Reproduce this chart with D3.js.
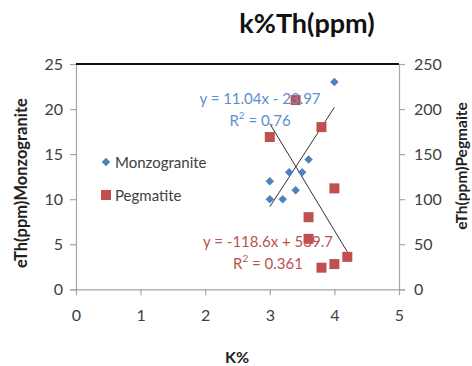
<!DOCTYPE html>
<html><head><meta charset="utf-8">
<script src="https://cdn.jsdelivr.net/npm/d3@7"></script>
<style>body{margin:0;background:#fff;}svg{display:block;font-family:Lato,"Open Sans",sans-serif;}</style>
</head><body>
<svg id="c" width="472" height="366"></svg>
<script>
const monzoK = [3.0, 3.0, 3.2, 3.3, 3.4, 3.5, 3.6, 4.0];
const monzoTh = [12, 10, 10, 13, 11, 13, 14.4, 23];
const pegK = [3.0, 3.4, 3.8, 4.0, 3.6, 3.6, 3.8, 4.0, 4.2];
const pegTh = [169, 210, 180, 112, 80, 56, 24, 28, 36];
const xTicks = [0, 1, 2, 3, 4, 5];
const yLeftTicks = [0, 5, 10, 15, 20, 25];
const yRightTicks = [0, 50, 100, 150, 200, 250];
const monzoFit = {slope: 11.04, intercept: -23.97, r2: "0.76", x0: 3.0, x1: 4.0};
const pegFit = {slope: -118.6, intercept: 539.7, r2: "0.361", x0: 3.0, x1: 4.2};

const svg = d3.select("#c");
const L = 76, R = 399, T = 64, B = 289.3;
const x = d3.scaleLinear().domain([0, 5]).range([L, R]);
const yL = d3.scaleLinear().domain([0, 25]).range([B, T]);
const yR = d3.scaleLinear().domain([0, 250]).range([B, T]);
const blue = "#4F81BD", red = "#C0504D", txt = "#404040", grid = "#a6a6a6";

// axes
const ax = svg.append("g").attr("transform", `translate(0,${B})`)
  .call(d3.axisBottom(x).tickValues(xTicks).tickSize(6).tickPadding(14).tickFormat(d3.format("d")));
const axL = svg.append("g").attr("transform", `translate(${L},0)`)
  .call(d3.axisLeft(yL).tickValues(yLeftTicks).tickSize(6).tickPadding(7));
const axR = svg.append("g").attr("transform", `translate(${R},0)`)
  .call(d3.axisRight(yR).tickValues(yRightTicks).tickSize(6).tickPadding(9));
[ax, axL, axR].forEach(g => {
  g.selectAll("path,line").attr("stroke", grid).attr("stroke-width", 1.2);
  g.selectAll("text").attr("fill", txt).attr("font-size", 16).attr("font-family", "Lato,sans-serif");
});
ax.select(".domain").attr("d", `M${L},0.5H${R}`);
// top border
svg.append("line").attr("x1", L).attr("x2", R).attr("y1", T).attr("y2", T)
  .attr("stroke", "#111").attr("stroke-width", 2);

// trend lines
[monzoFit, pegFit].forEach((f, i) => {
  const yy = i === 0 ? yL : yR;
  svg.append("line")
    .attr("x1", x(f.x0)).attr("y1", yy(f.slope * f.x0 + f.intercept))
    .attr("x2", x(f.x1)).attr("y2", yy(f.slope * f.x1 + f.intercept))
    .attr("stroke", "#333").attr("stroke-width", 1);
});

// points
const diamond = d3.symbol().type(d3.symbolDiamond2).size(46);
svg.append("g").selectAll("path").data(monzoK.map((k, i) => [k, monzoTh[i]])).join("path")
  .attr("d", diamond).attr("transform", d => `translate(${x(d[0])},${yL(d[1])})`).attr("fill", blue);
svg.append("g").selectAll("rect").data(pegK.map((k, i) => [k, pegTh[i]])).join("rect")
  .attr("x", d => x(d[0]) - 5).attr("y", d => yR(d[1]) - 5).attr("width", 10).attr("height", 10).attr("fill", red);

// equation labels
function eq(f, cx, cy, col) {
  const s = f.intercept < 0 ? " - " : " + ";
  svg.append("text").attr("x", cx).attr("y", cy).attr("text-anchor", "middle").attr("dominant-baseline", "central")
    .attr("fill", col).attr("font-size", 15)
    .text(`y = ${f.slope}x${s}${Math.abs(f.intercept)}`);
  const t = svg.append("text").attr("x", cx).attr("y", cy + 22).attr("text-anchor", "middle").attr("dominant-baseline", "central")
    .attr("fill", col).attr("font-size", 15);
  t.append("tspan").text("R");
  t.append("tspan").attr("font-size", 10).attr("dy", -5).text("2");
  t.append("tspan").attr("dy", 5).text(` = ${f.r2}`);
}
eq(monzoFit, 260, 98, "#5B8FD0");
eq(pegFit, 268, 241, red);

// legend
svg.append("path").attr("d", diamond).attr("transform", "translate(106,162)").attr("fill", blue);
svg.append("text").attr("x", 115).attr("y", 162).attr("dominant-baseline", "central").attr("fill", txt).attr("font-size", 15).text("Monzogranite");
svg.append("rect").attr("x", 101).attr("y", 190).attr("width", 10).attr("height", 10).attr("fill", red);
svg.append("text").attr("x", 115).attr("y", 195).attr("dominant-baseline", "central").attr("fill", txt).attr("font-size", 15).text("Pegmatite");

// titles
svg.append("text").attr("x", 307).attr("y", 33).attr("text-anchor", "middle").attr("font-size", 27).attr("font-weight", "bold").attr("fill", "#111").text("k%Th(ppm)");
svg.append("text").attr("transform", "translate(21,183) rotate(-90)").attr("text-anchor", "middle").attr("dominant-baseline", "central")
  .attr("font-size", 16.5).attr("font-weight", "bold").attr("fill", "#222").text("eTh(ppm)Monzogranite");
svg.append("text").attr("transform", "translate(461,166) rotate(-90)").attr("text-anchor", "middle").attr("dominant-baseline", "central")
  .attr("font-size", 15.5).attr("font-weight", "bold").attr("fill", "#222").text("eTh(ppm)Pegmaite");
svg.append("text").attr("x", 237).attr("y", 356).attr("text-anchor", "middle").attr("dominant-baseline", "central")
  .attr("font-size", 16).attr("font-weight", "bold").attr("fill", "#222").text("K%");
</script>
</body></html>
